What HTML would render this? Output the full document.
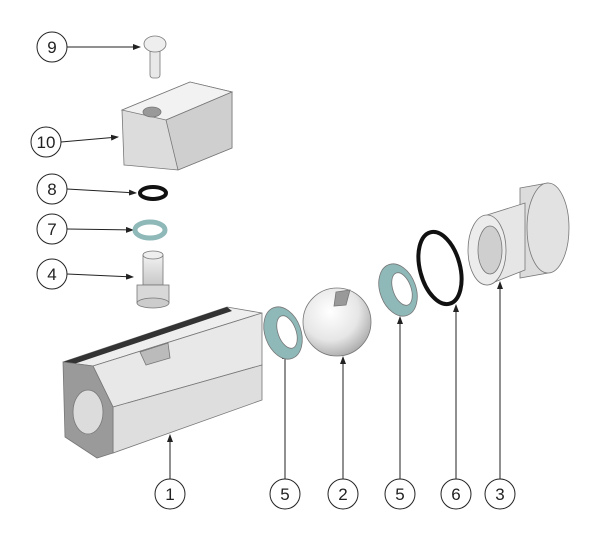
<!DOCTYPE html>
<html><head><style>
body{margin:0;background:#fff;}
svg{display:block;}
text{font-family:"Liberation Sans",sans-serif;font-size:17px;fill:#222;text-anchor:middle;}
</style></head><body>
<svg width="600" height="543" viewBox="0 0 600 543" xmlns="http://www.w3.org/2000/svg">
<defs>
<radialGradient id="ball" cx="0.4" cy="0.35" r="0.7"><stop offset="0" stop-color="#fff"/><stop offset="0.6" stop-color="#e6e6e6"/><stop offset="1" stop-color="#a8a8a8"/></radialGradient>
<linearGradient id="metal" x1="0" y1="0" x2="0" y2="1"><stop offset="0" stop-color="#f2f2f2"/><stop offset="1" stop-color="#c8c8c8"/></linearGradient>
<marker id="ar" markerWidth="8" markerHeight="6" refX="7" refY="3" orient="auto"><path d="M0,0 L8,3 L0,6 z" fill="#222"/></marker>
</defs>
<g stroke="#222" stroke-width="1" fill="none">
<line x1="67" y1="47" x2="140" y2="47" marker-end="url(#ar)"/>
<line x1="61" y1="142" x2="118" y2="137" marker-end="url(#ar)"/>
<line x1="67" y1="189" x2="136" y2="193" marker-end="url(#ar)"/>
<line x1="67" y1="229" x2="133" y2="230" marker-end="url(#ar)"/>
<line x1="67" y1="274" x2="133" y2="277" marker-end="url(#ar)"/>
<line x1="170" y1="479" x2="170" y2="435" marker-end="url(#ar)"/>
<line x1="285" y1="479" x2="285" y2="352" marker-end="url(#ar)"/>
<line x1="343" y1="479" x2="343" y2="357" marker-end="url(#ar)"/>
<line x1="400" y1="479" x2="400" y2="317" marker-end="url(#ar)"/>
<line x1="456" y1="479" x2="456" y2="305" marker-end="url(#ar)"/>
<line x1="500" y1="479" x2="500" y2="282" marker-end="url(#ar)"/>
<circle cx="52" cy="47" r="15" fill="#fff"/>
<circle cx="46" cy="142" r="15" fill="#fff"/>
<circle cx="52" cy="189" r="15" fill="#fff"/>
<circle cx="52" cy="229" r="15" fill="#fff"/>
<circle cx="52" cy="274" r="15" fill="#fff"/>
<circle cx="170" cy="494" r="15" fill="#fff"/>
<circle cx="285" cy="494" r="15" fill="#fff"/>
<circle cx="343" cy="494" r="15" fill="#fff"/>
<circle cx="400" cy="494" r="15" fill="#fff"/>
<circle cx="456" cy="494" r="15" fill="#fff"/>
<circle cx="500" cy="494" r="15" fill="#fff"/>
</g>
<g stroke="#777" stroke-width="0.8">
<rect x="150" y="48" width="10" height="30" rx="3" fill="#e8e8e8"/>
<ellipse cx="155" cy="44" rx="11" ry="8" fill="#eee"/>
<polygon points="122,110 190,82 232,92 232,148 178,170 124,165" fill="#dcdcdc"/>
<polygon points="122,110 190,82 232,92 166,120" fill="#f2f2f2"/>
<polygon points="166,120 232,92 232,148 178,170" fill="#cfcfcf"/>
<ellipse cx="152" cy="112" rx="9" ry="5" fill="#999"/>
<ellipse cx="153" cy="193" rx="13" ry="6" fill="none" stroke="#111" stroke-width="4"/>
<ellipse cx="150" cy="230" rx="15" ry="8" fill="none" stroke="#8fb8b8" stroke-width="5"/>
<rect x="143" y="255" width="20" height="30" fill="url(#metal)"/>
<ellipse cx="153" cy="255" rx="10" ry="4" fill="#eee"/>
<rect x="137" y="285" width="32" height="18" fill="#d8d8d8"/>
<ellipse cx="153" cy="303" rx="16" ry="5" fill="#ccc"/>
<!-- body 1 -->
<polygon points="63,362 227,307 262,313 93,366" fill="#eeeeee"/>
<polygon points="63,362 227,307 232,311 68,366" fill="#333" stroke="none"/>
<polygon points="93,366 262,313 262,365 113,407" fill="#e8e8e8"/>
<polygon points="113,407 262,365 262,400 113,453" fill="#dedede"/>
<polygon points="63,362 93,366 113,407 113,453 97,458 65,437" fill="#9a9a9a"/>
<ellipse cx="88" cy="412" rx="15" ry="22" fill="#dcdcdc"/>
<path d="M140,352 L168,343 L170,358 L146,365 z" fill="#bbb"/>
<ellipse cx="283" cy="333" rx="18" ry="27" transform="rotate(-20 283 333)" fill="#8fb8b8"/>
<ellipse cx="287" cy="332" rx="9" ry="17" transform="rotate(-20 287 332)" fill="#fff"/>
<circle cx="337" cy="322" r="34" fill="url(#ball)"/>
<path d="M336,292 L350,290 L346,305 L334,306 z" fill="#999"/>
<ellipse cx="398" cy="290" rx="18" ry="27" transform="rotate(-20 398 290)" fill="#8fb8b8"/>
<ellipse cx="402" cy="289" rx="9" ry="17" transform="rotate(-20 402 289)" fill="#fff"/>
<ellipse cx="440" cy="268" rx="20" ry="37" transform="rotate(-15 440 268)" fill="none" stroke="#111" stroke-width="4"/>
<polygon points="520,188 548,183 548,273 520,278" fill="#dcdcdc"/>
<ellipse cx="548" cy="228" rx="21" ry="45" fill="#e2e2e2"/>
<polygon points="487,215 525,203 525,270 487,285" fill="#e6e6e6"/>
<ellipse cx="487" cy="250" rx="19" ry="35" fill="#ececec"/>
<ellipse cx="490" cy="250" rx="12" ry="24" fill="#cfcfcf"/>
</g>
<text x="52" y="53">9</text>
<text x="46" y="148">10</text>
<text x="52" y="195">8</text>
<text x="52" y="235">7</text>
<text x="52" y="280">4</text>
<text x="170" y="500">1</text>
<text x="285" y="500">5</text>
<text x="343" y="500">2</text>
<text x="400" y="500">5</text>
<text x="456" y="500">6</text>
<text x="500" y="500">3</text>
</svg>
</body></html>
